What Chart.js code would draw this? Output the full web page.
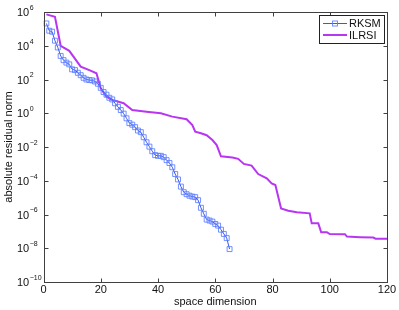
<!DOCTYPE html>
<html>
<head>
<meta charset="utf-8">
<script src="https://cdn.jsdelivr.net/npm/chart.js@4/dist/chart.umd.min.js"></script>
<style>
  html, body { margin: 0; padding: 0; background: #fff; }
  #wrap { width: 399px; height: 310px; }
</style>
</head>
<body>
<div id="wrap"><canvas id="residuals"></canvas></div>
<script>
// Data

const rksmValues = [
    2.1e5, 7.8e4, 6.8e4, 2.0e4, 7.9e3, 2.5e3, 1.4e3, 1.0e3, 790, 400,
    360, 250, 180, 126, 100, 93, 89, 76, 56, 32,
    18, 12.6, 8.3, 6.6, 3.9, 2.4, 1.55, 0.95, 0.5, 0.26,
    0.21, 0.15, 0.095, 0.076, 0.038, 0.019, 0.0105, 0.0056, 0.0033, 0.003,
    0.003, 0.0025, 0.00166, 0.00112, 6.3e-4, 2.5e-4, 1.2e-4, 4.5e-5, 2.1e-5, 1.6e-5,
    1.3e-5, 1.15e-5, 1.07e-5, 7.1e-6, 2.5e-6, 1.1e-6, 5.0e-7, 4.4e-7, 3.8e-7, 2.75e-7,
    2.2e-7, 1.26e-7, 7.1e-8, 4.0e-8, 8.9e-9
];

const ilrsiX = [1, 4, 6, 9, 13, 16, 18.5, 20, 22, 24, 28, 31, 36, 41, 45, 50, 52, 53, 55, 57,
    59, 60.5, 62, 66, 68, 70, 72.7, 75, 78, 79.7, 81, 83, 85.5, 88.5, 93, 93.7, 96, 97, 99, 100,
    105.3, 106, 110.6, 115.2, 116, 120];
const ilrsiY = [7.2e5, 5.2e5, 1.0e4, 5.0e3, 575, 360, 235, 30, 9.5, 6.2, 3.9, 1.55, 1.23, 1.0, 0.63, 0.44, 0.2, 0.081, 0.065, 0.05,
    0.026, 0.013, 2.8e-3, 2.4e-3, 2.0e-3, 1.0e-3, 7.9e-4, 2.5e-4, 1.4e-4, 7.0e-5, 5.6e-5, 2.3e-6, 1.66e-6, 1.35e-6, 1.17e-6, 3.0e-7, 3.0e-7, 8.9e-8, 8.9e-8, 6.9e-8,
    6.8e-8, 4.9e-8, 4.5e-8, 4.3e-8, 3.7e-8, 3.7e-8];

const xTicks = [0, 20, 40, 60, 80, 100, 120];
const yTickExps = [6, 4, 2, 0, -2, -4, -6, -8, -10];
const seriesNames = ["RKSM", "ILRSI"];

const blueLine = '#3a55f0';
const blueMark = 'rgba(90,125,255,0.85)';
const purple = '#b836f2';
const axisColor = '#404040';
const font = '"Liberation Sans", Arial, sans-serif';

// Matlab style box, inward ticks, labels and legend

const matlabAxes = {
    id: 'matlabAxes',
    afterDraw(chart) {
        const ctx = chart.ctx;
        const a = chart.chartArea;
        const xs = chart.scales.x;
        const ys = chart.scales.y;
        const L = Math.round(a.left) + 0.5, R = Math.round(a.right) + 0.5;
        const T = Math.round(a.top) + 0.5, B = Math.round(a.bottom) + 0.5;

        ctx.save();
        ctx.strokeStyle = axisColor;
        ctx.lineWidth = 1;
        ctx.strokeRect(L, T, R - L, B - T);

        ctx.beginPath();
        xTicks.forEach(v => {
            const px = Math.round(xs.getPixelForValue(v)) + 0.5;
            ctx.moveTo(px, B); ctx.lineTo(px, B - 4);
            ctx.moveTo(px, T); ctx.lineTo(px, T + 4);
        });
        yTickExps.forEach(e => {
            const py = Math.round(ys.getPixelForValue(Math.pow(10, e))) + 0.5;
            ctx.moveTo(L, py); ctx.lineTo(L + 4, py);
            ctx.moveTo(R, py); ctx.lineTo(R - 4, py);
        });
        ctx.stroke();

        ctx.fillStyle = '#111';
        ctx.font = '11px ' + font;
        ctx.textAlign = 'center';
        ctx.textBaseline = 'middle';
        xTicks.forEach(v => {
            ctx.fillText(String(v), xs.getPixelForValue(v), 290);
        });

        yTickExps.forEach(e => {
            const py = ys.getPixelForValue(Math.pow(10, e));
            ctx.font = '11px ' + font;
            ctx.textAlign = 'left';
            ctx.textBaseline = 'middle';
            ctx.fillText('10', 17, py + 1);
            const w = ctx.measureText('10').width;
            ctx.font = '7px ' + font;
            ctx.fillText(e < 0 ? '\u2212' + (-e) : String(e), 17 + w + 0.5, py - 4);
        });

        ctx.font = '11px ' + font;
        ctx.textAlign = 'center';
        ctx.fillText('space dimension', (a.left + a.right) / 2, 302);

        ctx.save();
        ctx.translate(9, (a.top + a.bottom) / 2);
        ctx.rotate(-Math.PI / 2);
        ctx.fillText('absolute residual norm', 0, 0);
        ctx.restore();

        // legend
        const lx = 319.5, ly = 15.5, lw = 65, lh = 28;
        ctx.fillStyle = '#fff';
        ctx.fillRect(lx, ly, lw, lh);
        ctx.strokeStyle = '#222';
        ctx.strokeRect(lx, ly, lw, lh);

        ctx.lineWidth = 1;
        ctx.strokeStyle = blueLine;
        ctx.beginPath();
        ctx.moveTo(323, 23.5); ctx.lineTo(347, 23.5);
        ctx.stroke();
        ctx.strokeStyle = blueMark;
        ctx.strokeRect(332.5, 21, 5, 5);

        ctx.lineWidth = 2;
        ctx.strokeStyle = purple;
        ctx.beginPath();
        ctx.moveTo(323, 35); ctx.lineTo(347, 35);
        ctx.stroke();

        ctx.fillStyle = '#111';
        ctx.font = '11px ' + font;
        ctx.textAlign = 'left';
        ctx.fillText(seriesNames[0], 349, 23.5);
        ctx.fillText(seriesNames[1], 349, 35.5);
        ctx.restore();
    }
};

const canvas = document.getElementById("residuals");

const chartData = {
    datasets: [{
        label: seriesNames[0],
        data: rksmValues.map((v, i) => ({ x: i + 1, y: v })),
        borderColor: blueLine,
        borderWidth: 1,
        pointStyle: 'rect',
        pointRadius: 3.5,
        pointBorderWidth: 1,
        pointBorderColor: blueMark,
        pointBackgroundColor: 'rgba(0,0,0,0)',
        tension: 0,
        order: 1
    }, {
        label: seriesNames[1],
        data: ilrsiX.map((x, i) => ({ x: x, y: ilrsiY[i] })),
        borderColor: purple,
        borderWidth: 2,
        pointRadius: 0,
        tension: 0,
        order: 2
    }]
};

const chartOptions = {
    responsive: true,
    maintainAspectRatio: false,
    animation: { duration: 0 },
    layout: { padding: { top: 12, right: 12, left: 0, bottom: 0 } },
    scales: {
        x: {
            type: 'linear',
            min: 0,
            max: 120,
            ticks: { display: false },
            grid: { display: false },
            border: { display: false },
            afterFit: s => { s.height = 28; }
        },
        y: {
            type: 'logarithmic',
            min: 1e-10,
            max: 1e6,
            ticks: { display: false },
            grid: { display: false },
            border: { display: false },
            afterFit: s => { s.width = 43.5; }
        }
    },
    plugins: {
        legend: { display: false },
        tooltip: { enabled: false }
    }
};

let residualChart = new Chart(canvas, {
    type: 'line',
    data: chartData,
    options: chartOptions,
    plugins: [matlabAxes]
});
</script>
</body>
</html>
